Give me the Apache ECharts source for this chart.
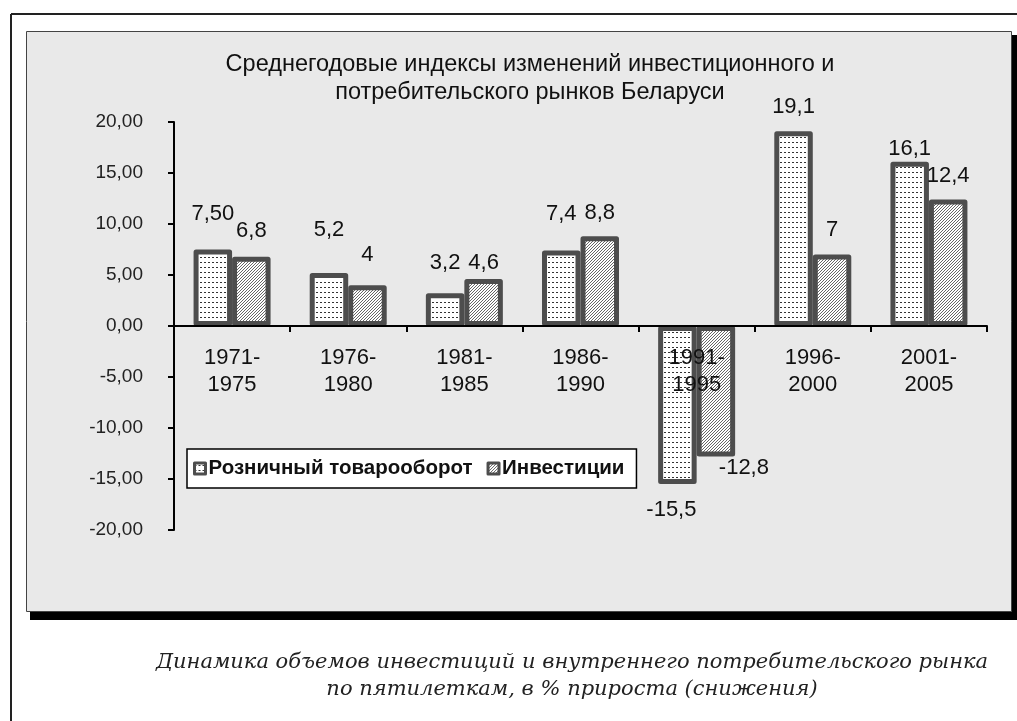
<!DOCTYPE html>
<html>
<head>
<meta charset="utf-8">
<script src="https://cdn.jsdelivr.net/npm/echarts@6/dist/echarts.min.js"></script>
<style>
html,body{margin:0;padding:0;background:#fff;}
#c{width:1017px;height:721px;}
</style>
</head>
<body>
<div id="c"></div>
<script>
const categories = ['1971-\n1975','1976-\n1980','1981-\n1985','1986-\n1990','1991-\n1995','1996-\n2000','2001-\n2005'];
const retailValues = [7.5, 5.2, 3.2, 7.4, -15.5, 19.1, 16.1];
const retailLabels = ['7,50','5,2','3,2','7,4','-15,5','19,1','16,1'];
const investValues = [6.8, 4, 4.6, 8.8, -12.8, 7, 12.4];
const investLabels = ['6,8','4','4,6','8,8','-12,8','7','12,4'];
const seriesNames = ['Розничный товарооборот','Инвестиции'];
const titleLines = ['Среднегодовые индексы изменений инвестиционного и','потребительского рынков Беларуси'];
const captionLines = ['Динамика объемов инвестиций и внутреннего потребительского рынка','по пятилеткам, в % прироста (снижения)'];

// label offsets (style only)
const retailOffsets = [[0,-25],[0,-32],[0,-19],[0,-26],[-6,15],[0,-13],[0,-2]];
const investOffsets = [[0,-15],[0,-19],[0,-5],[0,-12],[28,0],[0,-14],[0,-13]];

function dotPattern(){
  const c=document.createElement('canvas');c.width=4;c.height=5;
  const g=c.getContext('2d');g.fillStyle='#fff';g.fillRect(0,0,4,5);
  g.fillStyle='#333';g.fillRect(0,2,2,1);
  return c;
}
function hatchPattern(){
  const c=document.createElement('canvas');c.width=3;c.height=3;
  const g=c.getContext('2d');g.fillStyle='#fff';g.fillRect(0,0,3,3);
  g.fillStyle='#666';
  g.fillRect(2,0,1,1);g.fillRect(1,1,1,1);g.fillRect(0,2,1,1);
  return c;
}
const dotFill={image:dotPattern(),repeat:'repeat'};
const hatchFill={image:hatchPattern(),repeat:'repeat'};

const FONT='Liberation Sans, Arial, sans-serif';
const chart=echarts.init(document.getElementById('c'),null,{renderer:'canvas'});

function mkData(vals,labels,offs){
  return vals.map((v,i)=>({
    value:v,
    label:{formatter:labels[i],position:v<0?'bottom':'top',distance:0,offset:offs[i]}
  }));
}

chart.setOption({
  animation:false,
  backgroundColor:'#fff',
  graphic:[
    {type:'line',shape:{x1:11,y1:14,x2:11,y2:721},style:{stroke:'#222',lineWidth:2},z:-10},
    {type:'line',shape:{x1:11,y1:14,x2:1017,y2:14},style:{stroke:'#222',lineWidth:2},z:-10},
    {type:'rect',shape:{x:30,y:35,width:990,height:585},style:{fill:'#000'},z:-10},
    {type:'rect',shape:{x:26.5,y:31.5,width:985,height:580},style:{fill:'#e9e9e9',stroke:'#444',lineWidth:1},z:-9},
    {type:'text',x:572,y:649,style:{text:captionLines.join('\n'),font:'italic 21px "DejaVu Serif", serif',fill:'#222',textAlign:'center',lineHeight:27},z:5}
  ],
  title:{
    text:titleLines.join('\n'),
    left:525,top:46,textAlign:'center',
    textStyle:{fontFamily:FONT,fontSize:23.5,fontWeight:'normal',color:'#111',lineHeight:28}
  },
  legend:{
    left:187,top:449,
    data:[
      {name:seriesNames[0],icon:'rect',itemStyle:{color:dotFill,borderColor:'#4d4d4d',borderWidth:3}},
      {name:seriesNames[1],icon:'rect',itemStyle:{color:hatchFill,borderColor:'#4d4d4d',borderWidth:3}}
    ],
    itemWidth:11,itemHeight:11,itemGap:14,
    padding:[9,12,9,6],
    backgroundColor:'#fff',borderColor:'#000',borderWidth:1.5,borderRadius:0,
    textStyle:{fontFamily:FONT,fontSize:20.5,fontWeight:'bold',color:'#111',padding:[0,0,0,-2]}
  },
  grid:{left:174,right:30,top:122,bottom:191,containLabel:false},
  xAxis:{
    type:'category',data:categories,z:10,position:'bottom',offset:-204,
    axisLine:{onZero:false,lineStyle:{color:'#000',width:2}},
    axisTick:{show:true,length:6,lineStyle:{color:'#000',width:2}},
    axisLabel:{fontFamily:FONT,fontSize:22,color:'#111',lineHeight:27,margin:18}
  },
  yAxis:{
    type:'value',min:-20,max:20,interval:5,
    splitLine:{show:false},
    axisLine:{show:true,lineStyle:{color:'#000',width:2}},
    axisTick:{show:true,length:6,lineStyle:{color:'#000',width:2}},
    axisLabel:{fontFamily:FONT,fontSize:19,color:'#222',margin:31,
      formatter:v=>v.toFixed(2).replace('.',',')}
  },
  series:[
    {name:seriesNames[0],type:'bar',barWidth:38.5,barGap:'0%',
     data:mkData(retailValues,retailLabels,retailOffsets),
     itemStyle:{color:dotFill,borderColor:'#4d4d4d',borderWidth:5,borderJoin:'round'},
     label:{show:true,fontFamily:FONT,fontSize:22,color:'#111'}},
    {name:seriesNames[1],type:'bar',barWidth:38.5,barGap:'0%',
     data:mkData(investValues,investLabels,investOffsets),
     itemStyle:{color:hatchFill,borderColor:'#4d4d4d',borderWidth:5,borderJoin:'round'},
     label:{show:true,fontFamily:FONT,fontSize:22,color:'#111'}}
  ]
});
</script>
</body>
</html>
